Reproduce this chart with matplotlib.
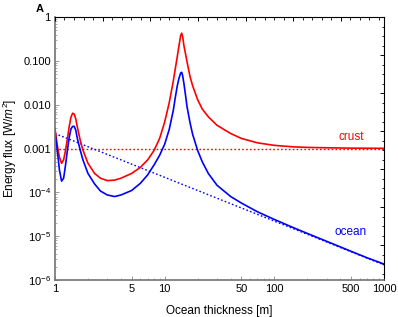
import matplotlib
matplotlib.use("Agg")
import matplotlib.pyplot as plt
import numpy as np
from matplotlib.ticker import NullFormatter, FixedLocator

plt.rcParams['font.family'] = ['Liberation Sans', 'DejaVu Sans']
plt.rcParams['mathtext.fontset'] = 'custom'
plt.rcParams['mathtext.rm'] = 'Liberation Sans'
plt.rcParams['mathtext.it'] = 'Liberation Sans:italic'

# ocean thickness [m]
thickness = [1.0, 1.05, 1.1, 1.15, 1.2, 1.25, 1.3, 1.35, 1.4, 1.45, 1.5, 1.55,
             1.6, 1.7, 1.8, 2.0, 2.3, 2.6, 3.0, 3.5, 4, 5, 6, 7, 8, 9, 10, 11,
             12, 12.5, 13, 13.5, 14, 14.3, 14.6, 15, 15.5, 16, 17, 18, 20, 22,
             25, 30, 40, 50, 70, 100, 150, 200, 300, 500, 700, 1000]

crust_flux = [2.9e-3, 1.2e-3, 6.3e-4, 4.6e-4, 5.5e-4, 9.2e-4, 1.7e-3, 3.2e-3,
              5.2e-3, 6.4e-3, 6.1e-3, 4.7e-3, 3.1e-3, 1.55e-3, 9.2e-4, 4.6e-4,
              2.7e-4, 2.1e-4, 1.85e-4, 1.9e-4, 2.1e-4, 2.7e-4, 3.7e-4, 5.5e-4,
              9e-4, 1.7e-3, 4e-3, 1.1e-2, 3.5e-2, 0.066, 0.12, 0.22, 0.38, 0.43,
              0.36, 0.22, 0.145, 0.095, 0.045, 0.027, 0.013, 8e-3, 5.3e-3,
              3.4e-3, 2.2e-3, 1.7e-3, 1.35e-3, 1.18e-3, 1.09e-3, 1.06e-3,
              1.04e-3, 1.02e-3, 1.015e-3, 1.01e-3]

ocean_flux = [2.4e-3, 9.2e-4, 3.2e-4, 1.8e-4, 2.1e-4, 4.2e-4, 9.2e-4, 1.8e-3,
              2.8e-3, 3.2e-3, 3.2e-3, 2.6e-3, 1.7e-3, 9.2e-4, 5.5e-4, 2.7e-4,
              1.55e-4, 1.07e-4, 8.7e-5, 8e-5, 8.7e-5, 1.1e-4, 1.6e-4, 2.5e-4,
              4.2e-4, 7e-4, 1.25e-3, 2.7e-3, 7.5e-3, 1.45e-2, 2.6e-2, 4e-2,
              5.3e-2, 5.5e-2, 4.6e-2, 3e-2, 1.65e-2, 9e-3, 4e-3, 2.1e-3, 9e-4,
              5e-4, 2.7e-4, 1.45e-4, 8e-5, 5.7e-5, 3.6e-5, 2.4e-5, 1.55e-5,
              1.15e-5, 7.6e-6, 4.5e-6, 3.2e-6, 2.3e-6]

# asymptotes
asym_x = [1, 1000]
crust_asym = [1e-3, 1e-3]
ocean_asym = [2.2e-3, 2.2e-6]

xticks = [1, 5, 10, 50, 100, 500, 1000]
xticklabels = ['1', '5', '10', '50', '100', '500', '1000']
yticks = [1e-6, 1e-5, 1e-4, 1e-3, 1e-2, 1e-1, 1]
yticklabels = ['$10^{-6}$', '$10^{-5}$', '$10^{-4}$', '0.001', '0.010', '0.100', '1']

RED = '#ff0000'
BLUE = '#0000ff'

fig = plt.figure(figsize=(3.98, 3.17), dpi=100)
ax = fig.add_axes((0.138, 0.117, 0.827, 0.829))

ax.plot(asym_x, crust_asym, color=RED, lw=1.0, ls=(0, (1.2, 1.6)))
ax.plot(asym_x, ocean_asym, color=BLUE, lw=1.0, ls=(0, (1.2, 1.6)))
ax.plot(thickness, crust_flux, color=RED, lw=1.2)
ax.plot(thickness, ocean_flux, color=BLUE, lw=1.2)

ax.set_xscale('log')
ax.set_yscale('log')
ax.set_xlim(1, 1000)
ax.set_ylim(1e-6, 1)

ax.set_xticks(xticks)
ax.set_xticklabels(xticklabels)
ax.set_yticks(yticks)
ax.set_yticklabels(yticklabels)
ax.xaxis.set_minor_formatter(NullFormatter())
ax.yaxis.set_minor_formatter(NullFormatter())
ax.tick_params(which='both', direction='in', color='0.55', labelsize=8, pad=3)
ax.tick_params(which='major', length=3, width=0.6)
ax.tick_params(which='minor', length=1.5, width=0.5)
for s in ['left', 'bottom']:
    ax.spines[s].set_color('0.45')
    ax.spines[s].set_linewidth(1.2)
for s in ['top', 'right']:
    ax.spines[s].set_color('black')
    ax.spines[s].set_linewidth(0.8)

ax.set_xlabel('Ocean thickness [m]', fontsize=8.5, labelpad=8)
ax.set_ylabel('Energy flux [W/$m^2$]', fontsize=8.5, labelpad=3)

ax.text(500, 1.8e-3, 'crust', color=RED, fontsize=8.5, ha='center', va='center')
ax.text(500, 1.25e-5, 'ocean', color=BLUE, fontsize=8.5, ha='center', va='center')
fig.text(0.09, 0.972, 'A', fontsize=8, fontweight='bold', ha='left', va='center')

# top and right frame ticks (natural-log spacing)
top = ax.twiny()
top.set_xscale('log')
top.set_xlim(1, 1000)
top.xaxis.set_major_locator(FixedLocator(np.exp(np.arange(0, 7))))
top.xaxis.set_minor_locator(FixedLocator(np.exp(np.arange(0, 6.95, 0.2))))
top.xaxis.set_major_formatter(NullFormatter())
top.xaxis.set_minor_formatter(NullFormatter())
top.tick_params(which='both', direction='in', color='black')
top.tick_params(which='major', length=3, width=0.7)
top.tick_params(which='minor', length=1.8, width=0.6)

right = ax.twinx()
right.set_yscale('log')
right.set_ylim(1e-6, 1)
right.yaxis.set_major_locator(FixedLocator(np.exp(np.arange(-12, 1, 2))))
right.yaxis.set_minor_locator(FixedLocator(np.exp(np.arange(-13.5, 0.1, 0.5))))
right.yaxis.set_major_formatter(NullFormatter())
right.yaxis.set_minor_formatter(NullFormatter())
right.tick_params(which='both', direction='in', color='black')
right.tick_params(which='major', length=3, width=0.7)
right.tick_params(which='minor', length=1.8, width=0.6)
for a in (top, right):
    for s in a.spines.values():
        s.set_visible(False)

fig.savefig('out.png', dpi=100)
